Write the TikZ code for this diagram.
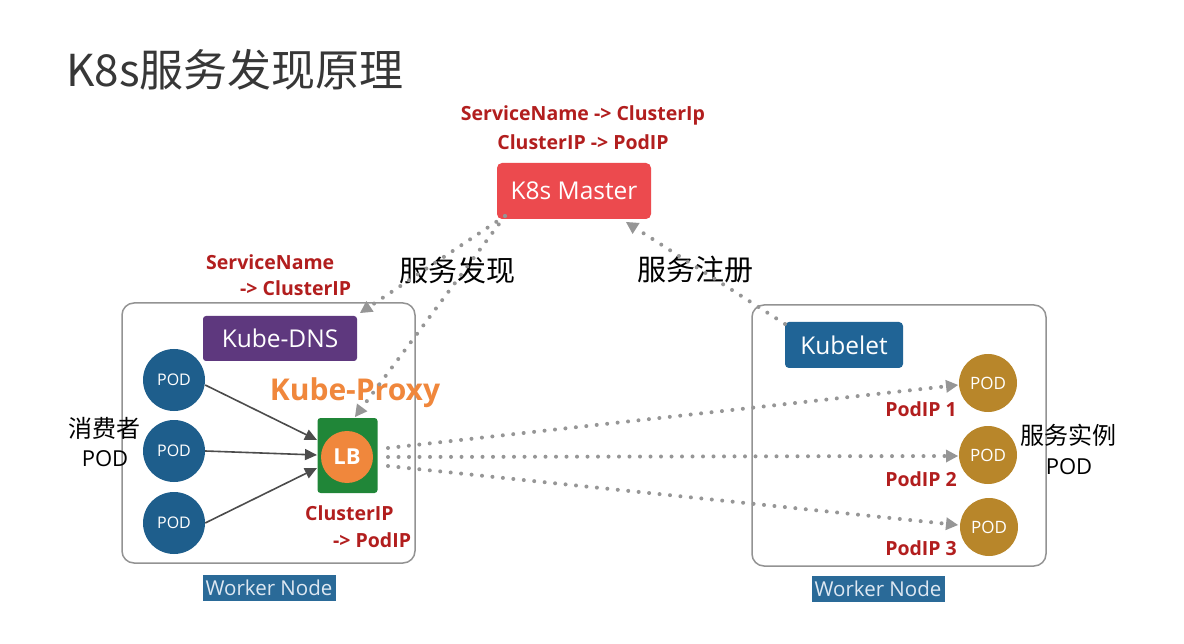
\documentclass[tikz,border=0pt]{standalone}
\usepackage{fontspec}
\setmainfont{Open Sans}
\newfontfamily\cjk{Noto Sans CJK SC}
\usetikzlibrary{arrows.meta}
\definecolor{txtred}{RGB}{178,30,30}
\definecolor{masterred}{RGB}{236,74,78}
\definecolor{dnspurple}{RGB}{94,56,126}
\definecolor{podblue}{RGB}{30,94,140}
\definecolor{lbgreen}{RGB}{32,134,56}
\definecolor{lborange}{RGB}{240,135,60}
\definecolor{kubeletblue}{RGB}{32,100,150}
\definecolor{podgold}{RGB}{184,134,42}
\definecolor{wnblue}{RGB}{42,106,152}
\definecolor{wntext}{RGB}{222,232,242}
\definecolor{dotgray}{RGB}{150,150,150}
\definecolor{titlegray}{RGB}{55,55,55}
\begin{document}
\begin{tikzpicture}[x=1pt,y=-1pt,
  redlbl/.style={text=txtred,font=\fontsize{19.5}{22}\selectfont\bfseries,inner sep=0pt},
  boxlbl/.style={rounded corners=5pt,text=white,font=\fontsize{24.5}{28}\selectfont,inner sep=0pt},
  podleft/.style={circle,fill=podblue,minimum size=62pt,inner sep=0pt,text=white,font=\fontsize{16}{19}\selectfont},
  podright/.style={circle,fill=podgold,minimum size=58pt,inner sep=0pt,text=white,font=\fontsize{17}{20}\selectfont},
  cjklbl/.style={text=black,font=\cjk\fontsize{24}{28}\selectfont,inner sep=0pt},
  wnode/.style={draw=gray!85,line width=1.5pt,rounded corners=12pt},
  wnlbl/.style={fill=wnblue,text=wntext,font=\fontsize{20.5}{24}\selectfont,minimum width=133pt,minimum height=26pt,inner sep=0pt},
  dotline/.style={draw=dotgray,line width=4pt,line cap=round,dash pattern=on 0pt off 10.5pt,
     -{Triangle[length=12pt,width=13pt,fill=dotgray,color=dotgray,line width=0pt,sep=0pt]}},
  solidarr/.style={draw=black!70,line width=1.6pt,-{Triangle[length=12pt,width=11pt]}}
]
\useasboundingbox (0,0) rectangle (1184,644);
\fill[white] (0,0) rectangle (1184,644);

% title
\node[anchor=west,text=titlegray,font=\cjk\fontsize{44}{48}\selectfont,inner sep=0pt] (title) at (66,70) {K8s服务发现原理};

% master
\node[redlbl] (m1) at (583,115) {ServiceName -> ClusterIp};
\node[redlbl] (m2) at (583,142) {ClusterIP -> PodIP};
\node[boxlbl,fill=masterred,minimum width=154pt,minimum height=56pt] (master) at (574,191) {K8s Master};

% cjk labels
\node[cjklbl,font=\cjk\fontsize{29}{32}\selectfont] (fx) at (457,270) {服务发现};
\node[cjklbl,font=\cjk\fontsize{29}{32}\selectfont] (zc) at (695,270) {服务注册};

% left worker
\node[wnode,minimum width=293pt,minimum height=260pt,inner sep=0pt] (wl) at (268.5,433) {};
\node[wnlbl] (wll) at (269,588) {Worker Node};
\node[redlbl,anchor=west] (sn1) at (206,262) {ServiceName};
\node[redlbl,anchor=west] (sn2) at (240,288) {-> ClusterIP};
\node[boxlbl,rounded corners=3pt,fill=dnspurple,minimum width=154pt,minimum height=45pt] (dns) at (280,338.5) {Kube-DNS};
\node[podleft] (p1) at (174,380) {POD};
\node[podleft] (p2) at (174,451) {POD};
\node[podleft] (p3) at (174,523) {POD};
\node[text=lborange,font=\fontsize{30}{34}\selectfont\bfseries,inner sep=0pt] (kp) at (355,393) {Kube-Proxy};
\node[fill=lbgreen,rounded corners=3pt,minimum width=60pt,minimum height=75pt,inner sep=0pt] (lb) at (347.5,455.5) {};
\node[circle,fill=lborange,minimum size=52pt,inner sep=0pt,text=white,font=\fontsize{22}{26}\selectfont\bfseries] (lbc) at (347,457) {LB};
\node[redlbl,anchor=west] (c1) at (305,513) {ClusterIP};
\node[redlbl,anchor=west] (c2) at (333,540) {-> PodIP};
\node[cjklbl] (xf1) at (104,428) {消费者};
\node[text=black,font=\fontsize{22}{26}\selectfont,inner sep=0pt] (xf2) at (105,459) {POD};

% right worker
\node[wnode,minimum width=294pt,minimum height=261pt,inner sep=0pt] (wr) at (899,435.5) {};
\node[wnlbl] (wrl) at (878,588.5) {Worker Node};
\node[boxlbl,rounded corners=4pt,fill=kubeletblue,minimum width=118pt,minimum height=46pt] (kubelet) at (844,345) {Kubelet};
\node[podright] (q1) at (988,383) {POD};
\node[podright] (q2) at (988,455) {POD};
\node[podright] (q3) at (989,527) {POD};
\node[redlbl,anchor=east] (ip1) at (957,409) {PodIP 1};
\node[redlbl,anchor=east] (ip2) at (957,479) {PodIP 2};
\node[redlbl,anchor=east] (ip3) at (957,548) {PodIP 3};
\node[cjklbl] (sl1) at (1068,435) {服务实例};
\node[text=black,font=\fontsize{22}{26}\selectfont,inner sep=0pt] (sl2) at (1069,467) {POD};

% coordinates for connectors
\coordinate (ms) at (505,216);
\coordinate (mr) at (626,222);
\coordinate (kls) at (785,324);
\coordinate (dnsend) at (360,313);
\coordinate (lbtop) at (355,417);
\coordinate (lbr1) at (388,448);
\coordinate (lbr2) at (388,457);
\coordinate (lbr3) at (388,466);
\coordinate (q1w) at (958,385);
\coordinate (q2w) at (958,456);
\coordinate (q3w) at (958,525);
\coordinate (lbl1) at (317,440);
\coordinate (lbl2) at (317,455);
\coordinate (lbl3) at (317,468);

% dotted connectors
\draw[dotline] (ms) -- (dnsend);
\draw[dotline] (ms) -- (lbtop);
\draw[dotline] (kls) -- (mr);
\draw[dotline] (lbr1) -- (q1w);
\draw[dotline] (lbr2) -- (q2w);
\draw[dotline] (lbr3) -- (q3w);

% solid arrows
\draw[solidarr] (p1.east) ++(0,5) -- (lbl1);
\draw[solidarr] (p2.east) -- (lbl2);
\draw[solidarr] (p3.east) -- (lbl3);
\end{tikzpicture}
\end{document}
